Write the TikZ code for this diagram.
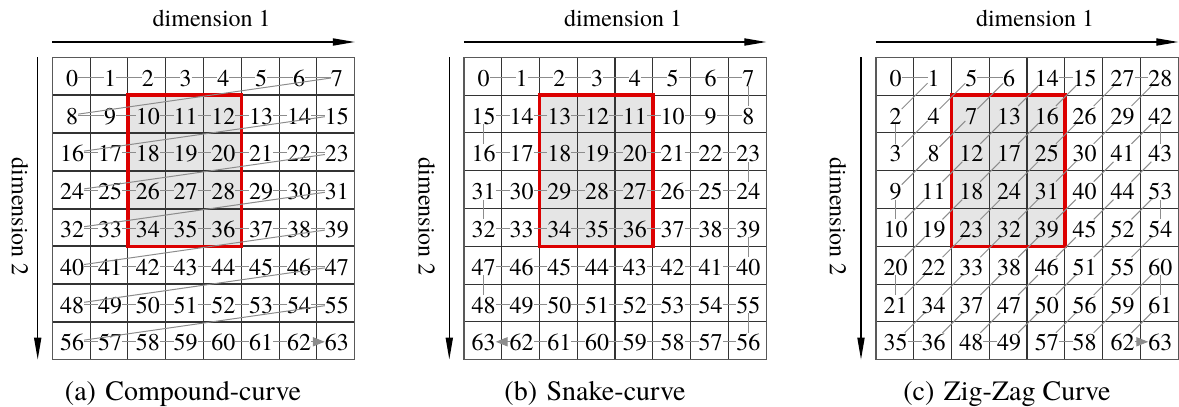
\documentclass[tikz,border=0pt]{standalone}
\usepackage{fontspec}
\setmainfont{TeX Gyre Termes}
\newfontfamily\timesfont{TeX Gyre Termes}
\usetikzlibrary{arrows.meta}
\newcommand\cellsz{37.8}
\newcommand\gridtop{57.3}
\newcommand{\mygrid}[2]{%
  \fill[boxfill] ({#1+2*\cellsz},{\gridtop+\cellsz}) rectangle ({#1+5*\cellsz},{\gridtop+5*\cellsz});
  \foreach \i in {1,...,7} {
    \draw[gridline] ({#1+\i*\cellsz},\gridtop) -- ({#1+\i*\cellsz},{\gridtop+8*\cellsz});
    \draw[gridline, line width=#2] (#1,{\gridtop+\i*\cellsz}) -- ({#1+8*\cellsz},{\gridtop+\i*\cellsz});
  }
  \draw[gridborder] (#1,\gridtop) rectangle ({#1+8*\cellsz},{\gridtop+8*\cellsz});
  \draw[redbox] ({#1+2*\cellsz},{\gridtop+\cellsz}) rectangle ({#1+5*\cellsz},{\gridtop+5*\cellsz});
}
\begin{document}
\begin{tikzpicture}[x=0.5pt,y=-0.5pt,
  boxfill/.style={fill=black!10},
  gridline/.style={draw=black!80, line width=0.55pt},
  gridborder/.style={draw=black!65, line width=0.7pt},
  redbox/.style={draw={rgb,255:red,220;green,0;blue,0}, line width=1.8pt},
  num/.style={inner sep=0pt, outer sep=0pt, text height=9pt, text depth=0pt, font=\timesfont\fontsize{12}{14}\selectfont},
  curve/.style={draw=black!45, line width=0.5pt},
  curveend/.style={curve, -{Triangle[length=6pt,width=4.6pt]}, black!45},
  axis/.style={draw=black, line width=0.6pt, -{Triangle[length=11pt,width=3.6pt]}},
  dimlab/.style={inner sep=0pt, font=\timesfont\fontsize{12}{14}\selectfont},
  caplab/.style={inner sep=0pt, font=\timesfont\fontsize{14}{16}\selectfont}]
\useasboundingbox (0,0) rectangle (1179,407);

% ---------- panel (a) ----------
\mygrid{52.3}{1pt}
\foreach \r in {0,...,7} {
  \foreach \cc in {0,...,7} {
    \pgfmathtruncatemacro\v{\r*8+\cc}
    \node[num] (a\v) at ({52.3+(\cc+0.5)*\cellsz+1},{\gridtop+(\r+0.5)*\cellsz+1}) {\v};
  }
}
\foreach \i [evaluate=\i as \j using int(\i+1)] in {0,...,61} {
  \draw[curve] (a\i) -- (a\j);
}
\draw[curveend] (a62) -- (a63);

% ---------- panel (b) ----------
\mygrid{463.8}{0.55pt}
\foreach \r in {0,...,7} {
  \foreach \cc in {0,...,7} {
    \pgfmathtruncatemacro\v{mod(\r,2)==0 ? \r*8+\cc : \r*8+7-\cc}
    \node[num] (b\v) at ({463.8+(\cc+0.5)*\cellsz+1},{\gridtop+(\r+0.5)*\cellsz+1}) {\v};
  }
}
\foreach \i [evaluate=\i as \j using int(\i+1)] in {0,...,61} {
  \draw[curve] (b\i) -- (b\j);
}
\draw[curveend] (b62) -- (b63);

% ---------- panel (c) ----------
\mygrid{875.8}{0.55pt}
\foreach \row [count=\r from 0] in {{0,1,5,6,14,15,27,28},{2,4,7,13,16,26,29,42},{3,8,12,17,25,30,41,43},{9,11,18,24,31,40,44,53},{10,19,23,32,39,45,52,54},{20,22,33,38,46,51,55,60},{21,34,37,47,50,56,59,61},{35,36,48,49,57,58,62,63}} {
  \foreach \v [count=\cc from 0] in \row {
    \node[num] (c\v) at ({875.8+(\cc+0.5)*\cellsz+1},{\gridtop+(\r+0.5)*\cellsz+1}) {\v};
  }
}
\foreach \i [evaluate=\i as \j using int(\i+1)] in {0,...,61} {
  \draw[curve] (c\i) -- (c\j);
}
\draw[curveend] (c62) -- (c63);

% ---------- axes and labels ----------
\foreach \p/\gx/\tx/\vx/\lx/\cx/\cap in {a/52.3/211.7/37.7/20/183/Compound-curve, b/463.8/623/449.3/426.7/595/Snake-curve, c/875.8/1035/861/838/1007/Zig-Zag Curve} {
  \node[dimlab, anchor=base] (\p-d1) at (\tx,26.7) {dimension 1};
  \coordinate (\p-h0) at (\gx,42);
  \coordinate (\p-h1) at ({\gx+302.5},42);
  \draw[axis] (\p-h0) -- (\p-h1);
  \coordinate (\p-v0) at (\vx,\gridtop);
  \coordinate (\p-v1) at (\vx,{\gridtop+302.2});
  \draw[axis] (\p-v0) -- (\p-v1);
  \node[dimlab, rotate=-90] (\p-d2) at (\lx,216.7) {dimension 2};
  \node[caplab, anchor=base] (\p-cap) at (\cx,400) {(\p)\hspace{4.7pt}\cap};
}
\end{tikzpicture}
\end{document}
